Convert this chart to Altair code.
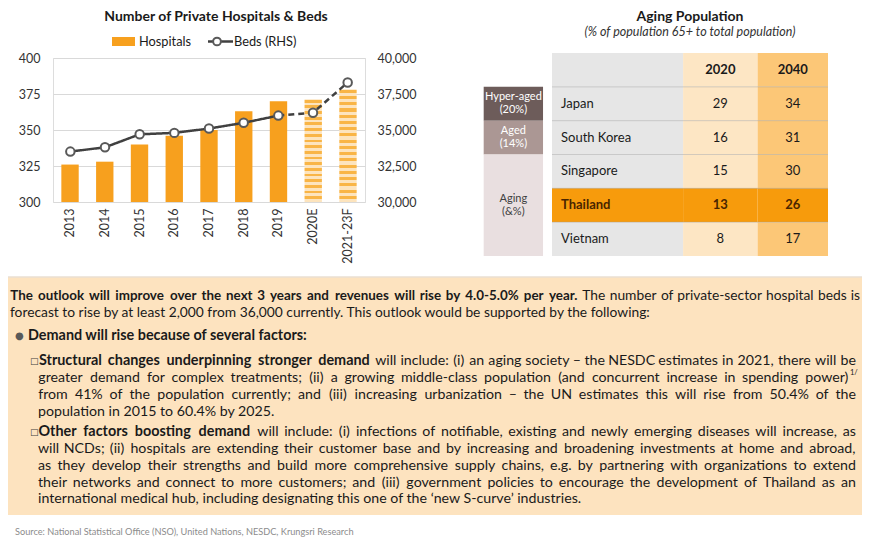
import altair as alt
import pandas as pd

FONT = "Lato"
SYM_FONT = "DejaVu Sans"
TXT = "#1a1a1a"
ORANGE = "#f7a01e"
STRIPE_A = "#f9b546"
STRIPE_B = "#fde4bd"
BOX = "#fde3bf"

# ---------------- data ----------------
years = ["2013", "2014", "2015", "2016", "2017", "2018", "2019", "2020E", "2021-23F"]
hospitals = [326, 328, 340, 346, 350, 363, 370, 371, 378]
beds = [33500, 33800, 34700, 34800, 35100, 35500, 36000, 36200, 38300]
n_actual = 7

countries = ["Japan", "South Korea", "Singapore", "Thailand", "Vietnam"]
pop2020 = [29, 16, 15, 13, 8]
pop2040 = [34, 31, 30, 26, 17]
year_cols = ["2020", "2040"]
groups = ["Hyper-aged\n(20%)", "Aged\n(14%)", "Aging\n(&%)"]
group_kinds = ["hyper", "aged", "aging"]
group_rows = [(1, 2), (2, 3), (3, 6)]

P1_bold = "The outlook will improve over the next 3 years and revenues will rise by 4.0-5.0% per year."
P1_rest = "The number of private-sector hospital beds is"
P2 = "forecast to rise by at least 2,000 from 36,000 currently. This outlook would be supported by the following:"
B1 = "Demand will rise because of several factors:"
S1_bold = "Structural changes underpinning stronger demand"
S1_lines = [
    "will include: (i) an aging society \u2013 the NESDC estimates in 2021, there will be",
    "greater demand for complex treatments; (ii) a growing middle-class population (and concurrent increase in spending power)",
    "from 41% of the population currently; and (iii) increasing urbanization \u2013 the UN estimates this will rise from 50.4% of the",
    "population in 2015 to 60.4% by 2025.",
]
S2_bold = "Other factors boosting demand"
S2_lines = [
    "will include: (i) infections of notifiable, existing and newly emerging diseases will increase, as",
    "will NCDs; (ii) hospitals are extending their customer base and by increasing and broadening investments at home and abroad,",
    "as they develop their strengths and build more comprehensive supply chains, e.g. by partnering with organizations to extend",
    "their networks and connect to more customers; and (iii) government policies to encourage the development of Thailand as an",
    "international medical hub, including designating this one of the \u2018new S-curve\u2019 industries.",
]
SOURCE = "Source: National Statistical Office (NSO), United Nations, NESDC, Krungsri Research"

# ---------------- layout ----------------
OX, OY = 53, 58          # plot-area origin in reference pixels
PW, PH = 312, 144
TS1 = 13.8               # first paragraph
TB1 = 13.4               # first paragraph bold lead
TS2 = 14.2               # sub-bullet text
TB2 = 14.4               # sub-bullet bold


def T(text, x, y, size=TS1, weight="normal", align="left", color=TXT, font=FONT, style="normal"):
    return alt.Chart(alt.Data(values=[{"t": text}])).mark_text(
        align=align, baseline="middle", fontSize=size, fontWeight=weight,
        font=font, color=color, fontStyle=style
    ).encode(text="t:N", x=alt.value(x - OX), y=alt.value(y - OY))


# approximate advance widths (em) used only to spread justified words
CW = {'a': .51, 'b': .57, 'c': .46, 'd': .57, 'e': .53, 'f': .32, 'g': .51, 'h': .56, 'i': .24, 'j': .24,
      'k': .5, 'l': .24, 'm': .85, 'n': .56, 'o': .57, 'p': .57, 'q': .57, 'r': .37, 's': .42, 't': .35,
      'u': .56, 'v': .5, 'w': .77, 'x': .49, 'y': .5, 'z': .45,
      'I': .28, 'M': .83, 'W': .93, 'N': .74, 'S': .52, 'D': .71, 'C': .65, 'E': .55, 'T': .56, 'U': .7,
      'O': .77, 'H': .74, 'F': .53, 'R': .6, 'B': .63,
      '.': .22, ',': .22, ':': .22, ';': .22, "'": .2, '\u2018': .2, '\u2019': .2, '(': .31, ')': .31,
      '-': .33, '\u2013': .5, '%': .77, '/': .35, '&': .68}


def est(word, size, weight):
    w = 0.0
    for ch in word:
        if ch in CW:
            w += CW[ch]
        elif ch.isdigit():
            w += .58
        elif ch.isupper():
            w += .64
        else:
            w += .5
    return w * size * (1.05 if weight == "bold" else 1.0)


def justified(segments, xl, xr, y):
    words = []
    for text, weight, size in segments:
        for w in text.split(" "):
            words.append((w, weight, size, est(w, size, weight)))
    total = sum(w[3] for w in words)
    gap = (xr - xl - total) / (len(words) - 1)
    rows = []
    x = xl
    for w, weight, size, wd in words:
        rows.append({"t": w, "px": x + wd / 2 - OX, "weight": weight, "size": size})
        x += wd + gap
    d = pd.DataFrame(rows)
    out = []
    for (weight, size), g in d.groupby(["weight", "size"]):
        out.append(alt.Chart(g).mark_text(align="center", baseline="middle", fontSize=size,
                                          fontWeight=weight, font=FONT, color=TXT).encode(
            text="t:N", x=alt.X("px:Q", scale=None, axis=None), y=alt.value(y - OY)))
    return out


# ---------------- bar + line chart ----------------
df = pd.DataFrame({
    "year": years, "hospitals": hospitals, "beds": beds, "idx": list(range(len(years))),
    "kind": ["actual"] * n_actual + ["forecast"] * (len(years) - n_actual),
})
seg_rows = []
for i, (yr, b) in enumerate(zip(years, beds)):
    if i < n_actual:
        seg_rows.append({"year": yr, "beds": b, "idx": i, "seg": "actual"})
    if i >= n_actual - 1:
        seg_rows.append({"year": yr, "beds": b, "idx": i, "seg": "forecast"})
seg = pd.DataFrame(seg_rows)

XS = alt.Scale(domain=years, paddingInner=0.5, paddingOuter=0.24)
HS = alt.Scale(domain=[300, 400], zero=False, nice=False)
BS = alt.Scale(domain=[30000, 40000], zero=False, nice=False)
x_axis = alt.Axis(title=None, labelAngle=-90, ticks=False, domain=False, labelPadding=6,
                  labelFontSize=12.5, labelColor="#333333", labelFont=FONT)
yH_axis = alt.Axis(title=None, orient="left", values=[300, 325, 350, 375, 400], ticks=False,
                   domain=False, labelPadding=13, grid=True, gridColor="#d9d9d9",
                   labelFontSize=12.5, labelColor="#333333", labelFont=FONT)
yB_axis = alt.Axis(title=None, orient="right", values=[30000, 32500, 35000, 37500, 40000],
                   labelExpr="format(datum.value, ',')", ticks=False, domain=False, labelPadding=12,
                   grid=False, labelFontSize=12.5, labelColor="#333333", labelFont=FONT)

N = 18
stops = []
for k in range(N):
    a, m, b = k / N, (k + 0.5) / N, (k + 1) / N
    stops += [alt.GradientStop(color=STRIPE_A, offset=a), alt.GradientStop(color=STRIPE_A, offset=m),
              alt.GradientStop(color=STRIPE_B, offset=m), alt.GradientStop(color=STRIPE_B, offset=b)]
stripes = alt.Gradient(gradient="linear", stops=stops, x1=0, x2=0, y1=0, y2=1)

bars_a = alt.Chart(df).transform_filter("datum.kind == 'actual'").mark_bar(color=ORANGE).encode(
    x=alt.X("year:N", scale=XS, axis=x_axis),
    y=alt.Y("hospitals:Q", scale=HS, axis=yH_axis), y2=alt.datum(300))
bars_f = alt.Chart(df).transform_filter("datum.kind == 'forecast'").mark_bar(color=stripes).encode(
    x=alt.X("year:N", scale=XS, axis=None),
    y=alt.Y("hospitals:Q", scale=HS, axis=None), y2=alt.datum(300))
line = alt.Chart(seg).mark_line(color="#404040", strokeWidth=2.5).encode(
    x=alt.X("year:N", scale=XS, axis=None),
    y=alt.Y("beds:Q", scale=BS, axis=yB_axis), order=alt.Order("idx:Q"),
    strokeDash=alt.StrokeDash("seg:N", scale=alt.Scale(domain=["actual", "forecast"], range=[[1, 0], [6, 4]]),
                              legend=None))
pts = alt.Chart(df).mark_point(shape="circle", filled=True, fill="white", stroke="#595959",
                                strokeWidth=2, size=72, opacity=1).encode(
    x=alt.X("year:N", scale=XS, axis=None), y=alt.Y("beds:Q", scale=BS, axis=None))

# ---------------- table ----------------
COL_EDGES = {"country": (0, 1.9), "2020": (1.9, 2.98), "2040": (2.98, 4.0)}
TX = alt.Scale(domain=[-1, 4], range=[430, 775], nice=False, zero=False)
TY = alt.Scale(domain=[0, 6], range=[-5, 198], nice=False, zero=False)
row_names = ["header"] + countries
cells = []
for r, name in enumerate(row_names):
    for col in ["country"] + year_cols:
        kind = "thai" if name == "Thailand" else {"country": "gray", "2020": "peach", "2040": "orange"}[col]
        x0, x1 = COL_EDGES[col]
        cells.append({"x0": x0, "x1": x1, "y0": r, "y1": r + 1, "kind": kind})
for (a, b), k in zip(group_rows, group_kinds):
    cells.append({"x0": -0.99, "x1": -0.13, "y0": a, "y1": b, "kind": k})
cells_df = pd.DataFrame(cells)

cat_df = pd.DataFrame({"label": groups, "kind": group_kinds,
                       "yc": [(a + b) / 2 for a, b in group_rows], "xc": (-0.99 - 0.13) / 2})

fill_scale = alt.Scale(domain=["gray", "peach", "orange", "thai", "hyper", "aged", "aging"],
                       range=["#e6e6e6", "#fde6c4", "#fcc777", "#f79b0c", "#6d5c5a", "#ab9794", "#e9dfe0"])

cell_layer = alt.Chart(cells_df).mark_rect().encode(
    x=alt.X("x0:Q", scale=TX, axis=None), x2="x1:Q",
    y=alt.Y("y0:Q", scale=TY, axis=None), y2="y1:Q",
    color=alt.Color("kind:N", scale=fill_scale, legend=None))
sep_df = pd.DataFrame({"y": list(range(1, len(row_names))), "x0": 0, "x1": 4})
sep_layer = alt.Chart(sep_df).mark_rule(color="#a0a0a0", strokeWidth=1, opacity=0.45).encode(
    y=alt.Y("y:Q", scale=TY, axis=None), x=alt.X("x0:Q", scale=TX, axis=None), x2="x1:Q")

cat_text_light = alt.Chart(cat_df).transform_filter("datum.kind != 'aging'").mark_text(
    font=FONT, fontSize=11, color="white", lineBreak="\n", lineHeight=13, dy=-6.5,
    align="center", baseline="middle").encode(
    x=alt.X("xc:Q", scale=TX, axis=None), y=alt.Y("yc:Q", scale=TY, axis=None), text="label:N")
cat_text_dark = alt.Chart(cat_df).transform_filter("datum.kind == 'aging'").mark_text(
    font=FONT, fontSize=11, color="#404040", lineBreak="\n", lineHeight=13, dy=-6.5,
    align="center", baseline="middle").encode(
    x=alt.X("xc:Q", scale=TX, axis=None), y=alt.Y("yc:Q", scale=TY, axis=None), text="label:N")

tt = []
for i, c in enumerate(countries):
    r = i + 1
    tt.append({"x": 0, "y": r + 0.5, "label": c, "col": "country", "thai": c == "Thailand"})
    for col, vals in zip(year_cols, [pop2020, pop2040]):
        x0, x1 = COL_EDGES[col]
        tt.append({"x": (x0 + x1) / 2, "y": r + 0.5, "label": str(vals[i]), "col": col, "thai": c == "Thailand"})
for col in year_cols:
    x0, x1 = COL_EDGES[col]
    tt.append({"x": (x0 + x1) / 2, "y": 0.5, "label": col, "col": "head", "thai": False})
tt_df = pd.DataFrame(tt)


def ttext(filt, align, weight, color, dx=0):
    return alt.Chart(tt_df).transform_filter(filt).mark_text(
        font=FONT, fontSize=13, align=align, baseline="middle", fontWeight=weight, color=color, dx=dx).encode(
        x=alt.X("x:Q", scale=TX, axis=None), y=alt.Y("y:Q", scale=TY, axis=None), text="label:N")


table = [
    cell_layer, sep_layer, cat_text_light, cat_text_dark,
    ttext("datum.col == 'country' && !datum.thai", "left", "normal", TXT, 9),
    ttext("datum.col == 'country' && datum.thai", "left", "bold", "#4a2500", 9),
    ttext("datum.col != 'country' && datum.col != 'head' && !datum.thai", "center", "normal", TXT),
    ttext("datum.col != 'country' && datum.col != 'head' && datum.thai", "center", "bold", "#4a2500"),
    ttext("datum.col == 'head'", "center", "bold", TXT),
]


# ---------------- titles / legend ----------------
def dummy():
    return alt.Data(values=[{"a": 1}])


titles = [
    T("Number of Private Hospitals & Beds", 216, 16.5, size=14, weight="bold", align="center"),
    T("Aging Population", 690, 16.5, size=14, weight="bold", align="center"),
    T("(% of population 65+ to total population)", 690, 31.5, size=12.5, align="center", style="italic",
      color="#333333"),
]
legend = [
    alt.Chart(dummy()).mark_rect(color=ORANGE).encode(
        x=alt.value(112 - OX), x2=alt.value(135 - OX), y=alt.value(37 - OY), y2=alt.value(46 - OY)),
    T("Hospitals", 139, 41.5, size=12.8),
    alt.Chart(dummy()).mark_rule(color="#404040", strokeWidth=2.5).encode(
        x=alt.value(208 - OX), x2=alt.value(233 - OX), y=alt.value(41.5 - OY)),
    alt.Chart(dummy()).mark_point(shape="circle", filled=True, fill="white", stroke="#595959",
                                  strokeWidth=2, size=60, opacity=1).encode(
        x=alt.value(217 - OX), y=alt.value(41.5 - OY)),
    T("Beds (RHS)", 234, 41.5, size=12.8),
]

# ---------------- text block ----------------
L0, L1, R0, R1 = 10, 38, 860, 856
box = alt.Chart(dummy()).mark_rect(color=BOX).encode(
    x=alt.value(0 - OX), x2=alt.value(870 - OX), y=alt.value(277 - OY), y2=alt.value(515 - OY))
box_edge = alt.Chart(dummy()).mark_rule(color="#eadfd2", strokeWidth=1.5).encode(
    x=alt.value(0 - OX), x2=alt.value(870 - OX), y=alt.value(277 - OY))
body = [box, box_edge]
body += justified([(P1_bold, "bold", TB1), (P1_rest, "normal", TS1)], L0, R0, 296)
body.append(T(P2, L0, 313, size=TS1))
body += [T("\u25cf", 15, 336, size=10, font=SYM_FONT, color="#595959"),
         T(B1, 28, 336, size=TB2, weight="bold"),
         T("\u25a1", 30, 361, size=9, font=SYM_FONT, color="#404040")]
body += justified([(S1_bold, "bold", TB2), (S1_lines[0], "normal", TS2)], L1, R1, 361)
body += justified([(S1_lines[1], "normal", TS2)], L1, R1 - 7, 378)
body.append(T("1/", R1 - 6, 373, size=7.5))
body += justified([(S1_lines[2], "normal", TS2)], L1, R1, 395)
body.append(T(S1_lines[3], L1, 412, size=TS2))
body.append(T("\u25a1", 30, 432, size=9, font=SYM_FONT, color="#404040"))
body += justified([(S2_bold, "bold", TB2), (S2_lines[0], "normal", TS2)], L1, R1, 432)
for s, y in zip(S2_lines[1:4], [449, 466, 483]):
    body += justified([(s, "normal", TS2)], L1, R1, y)
body.append(T(S2_lines[4], L1, 499, size=TS2))
body.append(T(SOURCE, 15, 532, size=9.2, color="#8c8c8c"))

chart = alt.layer(bars_a, bars_f, line, pts, *table, *titles, *legend, *body).resolve_scale(
    x="independent", y="independent"
).properties(
    width=PW, height=PH,
    padding={"left": OX - 8, "top": OY - 8, "right": 854 - (OX - 8) - PW, "bottom": 530 - (OY - 8) - PH},
    autosize=alt.AutoSizeParams(type="none"),
    background="white",
).configure_view(stroke=None).configure(font=FONT)

chart.save("out.html", embed_options={"renderer": "svg", "actions": False})
